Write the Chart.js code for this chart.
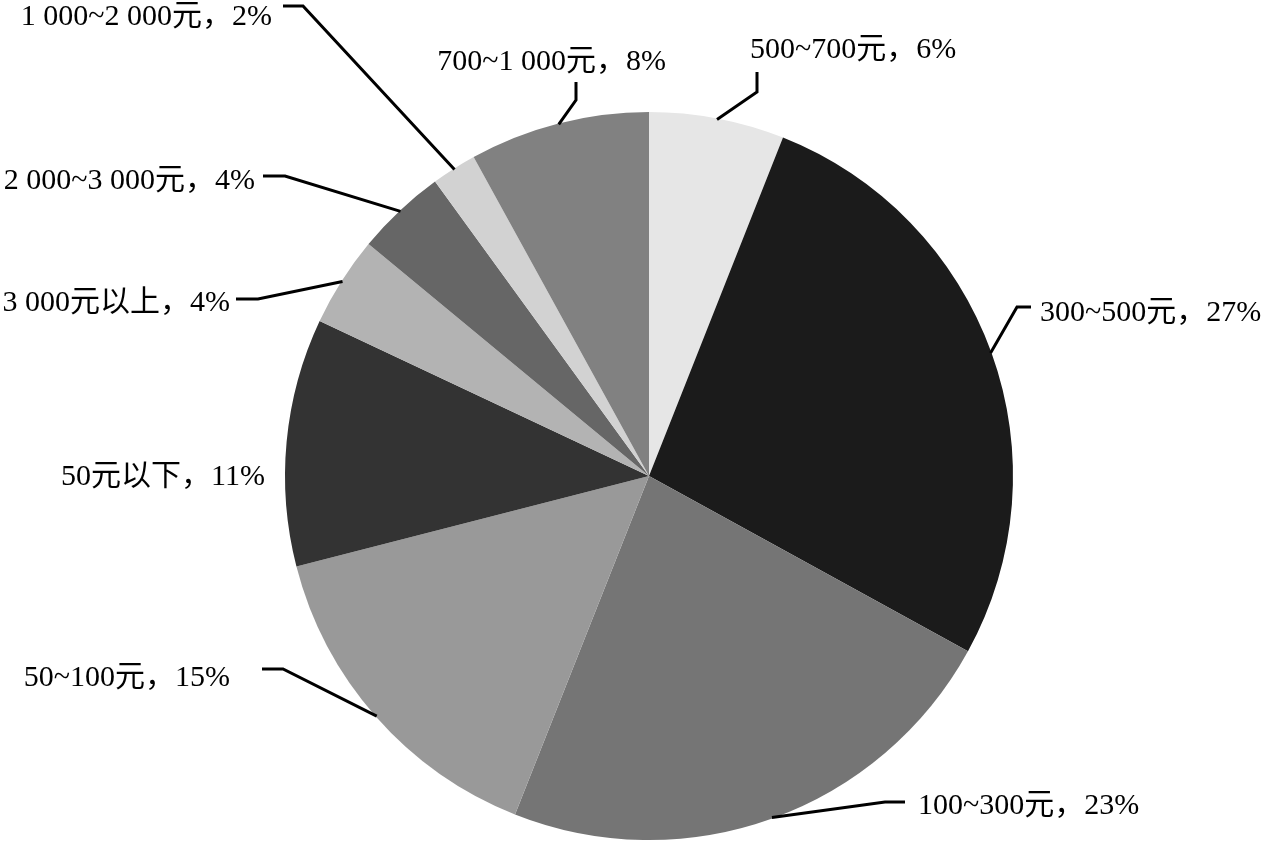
<!DOCTYPE html>
<html>
<head>
<meta charset="utf-8">
<script src="https://cdn.jsdelivr.net/npm/chart.js@4/dist/chart.umd.min.js"></script>
<style>
  html, body { margin: 0; padding: 0; background: #fff; }
  #wrap { width: 1266px; height: 858px; }
</style>
</head>
<body>
<div id="wrap"><canvas id="pie" width="1266" height="858"></canvas></div>
<script>
const categories = ["500~700元", "300~500元", "100~300元", "50~100元", "50元以下",
  "3 000元以上", "2 000~3 000元", "1 000~2 000元", "700~1 000元"];
const shares = [6, 27, 23, 15, 11, 4, 4, 2, 8];
const sliceColors = ["#e6e6e6", "#1b1b1b", "#757575", "#999999", "#333333",
  "#b3b3b3", "#666666", "#d2d2d2", "#818181"];

// label placement: elbow + end of leader line, text anchor
const labelLayout = [
  { elbow: [757, 92], end: [757, 72], tx: 750, ty: 50, align: "left" },
  { elbow: [1017, 307], end: [1031, 307], tx: 1040, ty: 313, align: "left" },
  { elbow: [885, 802], end: [905, 802], tx: 918, ty: 806, align: "left" },
  { elbow: [283, 669], end: [262, 669], tx: 230, ty: 678, align: "right" },
  { elbow: null, end: null, tx: 265, ty: 477, align: "right" },
  { elbow: [258, 299], end: [236, 299], tx: 230, ty: 303, align: "right" },
  { elbow: [285, 176], end: [263, 176], tx: 255, ty: 181, align: "right" },
  { elbow: [303, 6], end: [283, 6], tx: 272, ty: 17, align: "right" },
  { elbow: [576, 100], end: [576, 82], tx: 666, ty: 62, align: "right" }
];

const leaderLabels = {
  id: "leaderLabels",
  afterDatasetsDraw(chart) {
    const ctx = chart.ctx;
    const arcs = chart.getDatasetMeta(0).data;
    ctx.save();
    ctx.font = '30px "Liberation Serif", "Noto Sans CJK SC", serif';
    ctx.fillStyle = "#000";
    ctx.strokeStyle = "#000";
    ctx.lineWidth = 3;
    ctx.textBaseline = "middle";
    arcs.forEach((arc, i) => {
      const p = arc.getProps(["x", "y", "startAngle", "endAngle", "outerRadius"], true);
      const mid = (p.startAngle + p.endAngle) / 2;
      const L = labelLayout[i];
      if (L.elbow) {
        const ax = p.x + Math.cos(mid) * (p.outerRadius - 1);
        const ay = p.y + Math.sin(mid) * (p.outerRadius - 1);
        ctx.beginPath();
        ctx.moveTo(ax, ay);
        ctx.lineTo(L.elbow[0], L.elbow[1]);
        ctx.lineTo(L.end[0], L.end[1]);
        ctx.stroke();
      }
      ctx.textAlign = L.align;
      ctx.fillText(categories[i] + "，" + shares[i] + "%", L.tx, L.ty);
    });
    ctx.restore();
  }
};

new Chart(document.getElementById("pie"), {
  type: "pie",
  data: {
    labels: categories,
    datasets: [{
      data: shares,
      backgroundColor: sliceColors,
      borderWidth: 0
    }]
  },
  options: {
    responsive: false,
    animation: false,
    layout: { padding: { left: 285, right: 253, top: 112, bottom: 18 } },
    plugins: {
      legend: { display: false },
      tooltip: { enabled: false }
    }
  },
  plugins: [leaderLabels]
});
</script>
</body>
</html>
